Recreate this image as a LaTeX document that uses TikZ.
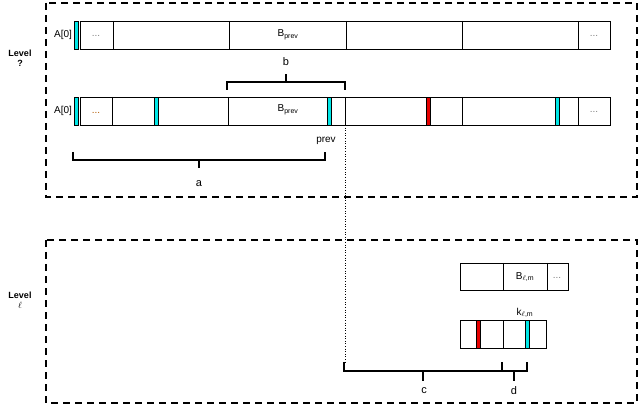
\documentclass[tikz,border=0pt]{standalone}
\usepackage{fontspec}
\setmainfont{Liberation Sans}
\definecolor{cy}{RGB}{0,230,230}
\definecolor{rd}{RGB}{230,0,0}
\begin{document}
\begin{tikzpicture}[x=1pt,y=-1pt,
  frame/.style={draw,line width=2pt,dash pattern=on 7pt off 5pt},
  bar/.style={draw,line width=0.6pt},
  mk/.style={draw=black,line width=0.4pt},
  br/.style={line width=1.3pt},
  lbl/.style={font=\fontsize{10}{11}\selectfont},
  lvl/.style={font=\bfseries\fontsize{9}{10}\selectfont,align=center}]
\useasboundingbox (0,0) rectangle (640,406);
\draw[frame] (46,3) rectangle (637,197);
\draw[frame] (46,240) rectangle (637,403);
\node[lvl] (l1) at (20,58) {Level\\?};
\node[lvl] (l2) at (20,300) {Level\\$\ell$};
% bar 1
\draw[bar] (80,21) rectangle (610,49);
\foreach \x in {113,229,346,462,578} \draw[bar] (\x,21) -- (\x,49);
\draw[mk,fill=cy] (74,21) rectangle (78,49);
\node[lbl] (a0a) at (63,35) {A[0]};
\node[lbl,gray] (d1) at (96,36) {...};
\node[lbl,gray] (d2) at (594,36) {...};
\node[lbl] (bp1) at (288,35) {B\textsubscript{prev}};
% bar 2
\draw[bar] (80,97) rectangle (610,125);
\foreach \x in {112,228,345,462,578} \draw[bar] (\x,97) -- (\x,125);
\draw[mk,fill=cy] (74,97) rectangle (78,125);
\foreach \x in {156,329,557} \draw[mk,fill=cy] (\x-2,97) rectangle (\x+2,125);
\draw[mk,fill=rd] (426,97) rectangle (430,125);
\node[lbl] (a0b) at (63,111) {A[0]};
\node[lbl,orange!70!black] (d3) at (96,113) {...};
\node[lbl,gray] (d4) at (594,112) {...};
\node[lbl] (bp2) at (288,110) {B\textsubscript{prev}};
% bracket b
\draw[br] (227,90) -- (227,82) -- (345,82) -- (345,90);
\draw[br] (286,82) -- (286,74);
\node[font=\fontsize{11}{12}\selectfont] (b) at (286,62) {b};
% prev and bracket a
\node[lbl] (prev) at (326,141) {prev};
\draw[br] (73,152) -- (73,160) -- (325,160) -- (325,152);
\draw[br] (199,160) -- (199,168);
\node[font=\fontsize{11}{12}\selectfont] (a) at (199,184) {a};
\draw[dotted,line width=0.6pt] (345,125) -- (345,364);
% bar 3
\draw[bar] (460,263) rectangle (568,290);
\foreach \x in {503,547} \draw[bar] (\x,263) -- (\x,290);
\node[lbl] (blm) at (525,277) {B\textsubscript{$\ell$,m}};
\node[lbl,gray] (d5) at (557,278) {...};
% bar 4
\node[lbl] (klm) at (525,313) {k\textsubscript{$\ell$,m}};
\draw[bar] (460,320) rectangle (546,348);
\draw[bar] (503,320) -- (503,348);
\draw[mk,fill=rd] (476,320) rectangle (480,348);
\draw[mk,fill=cy] (525,320) rectangle (529,348);
% brackets c, d
\draw[br] (344,362) -- (344,371) -- (502,371) -- (502,362);
\draw[br] (502,371) -- (527,371) -- (527,362);
\draw[br] (423,371) -- (423,381);
\draw[br] (514,371) -- (514,381);
\node[font=\fontsize{11}{12}\selectfont] (c) at (424,391) {c};
\node[font=\fontsize{11}{12}\selectfont] (d) at (514,391) {d};
\end{tikzpicture}
\end{document}
